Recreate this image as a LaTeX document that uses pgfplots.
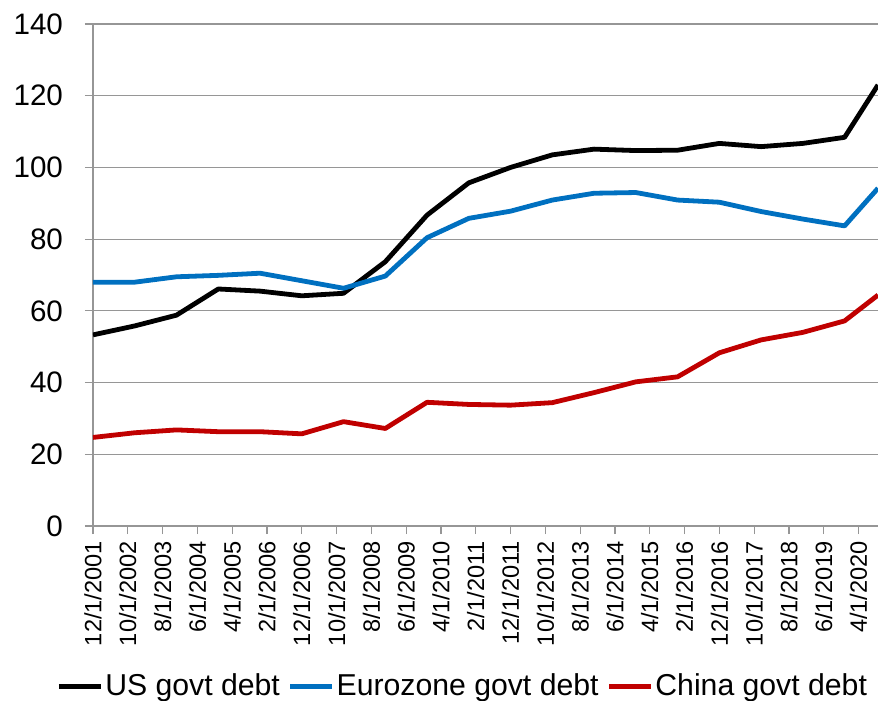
\documentclass[border=0pt]{standalone}
\usepackage{pgfplots}
\pgfplotsset{compat=1.18}
\usepackage{fontspec}
\setmainfont{Liberation Sans}
\definecolor{usblk}{RGB}{0,0,0}
\definecolor{ezblue}{RGB}{0,112,192}
\definecolor{cnred}{RGB}{192,0,0}
\definecolor{gridgray}{RGB}{150,150,150}
\pgfplotstableread{
m us ez cn
0 53.3 68.0 24.7
12 55.8 68.0 26.0
24 58.8 69.5 26.8
36 66.1 69.9 26.3
48 65.5 70.5 26.3
60 64.2 68.4 25.7
72 64.9 66.3 29.1
84 73.7 69.7 27.2
96 86.7 80.4 34.5
108 95.7 85.8 33.9
120 100.0 87.8 33.7
132 103.5 90.9 34.4
144 105.1 92.8 37.2
156 104.7 93.0 40.2
168 104.8 90.9 41.6
180 106.7 90.3 48.3
192 105.8 87.7 51.9
204 106.7 85.6 54.0
216 108.4 83.7 57.2
225.6 123.0 94.2 64.4
}\debt
\begin{document}
\begin{tikzpicture}
\begin{axis}[
  scale only axis,
  width=392.5pt, height=251pt,
  xmin=0, xmax=225.6,
  ymin=0, ymax=140,
  ytick={0,20,...,140},
  xtick={0,10,...,220},
  xticklabels={12/1/2001,10/1/2002,8/1/2003,6/1/2004,4/1/2005,2/1/2006,12/1/2006,10/1/2007,8/1/2008,6/1/2009,4/1/2010,2/1/2011,12/1/2011,10/1/2012,8/1/2013,6/1/2014,4/1/2015,2/1/2016,12/1/2016,10/1/2017,8/1/2018,6/1/2019,4/1/2020},
  axis lines*=left,
  axis line style={gridgray, line width=0.6pt},
  tick style={gridgray, line width=0.6pt},
  tick align=outside,
  major tick length=4pt,
  ymajorgrids,
  grid style={gridgray, line width=0.6pt},
  /pgf/number format/assume math mode=true,
  yticklabel style={font=\fontsize{14.8}{17}\selectfont, xshift=-7.5pt},
  xticklabel style={font=\fontsize{11.8}{13}\selectfont, rotate=90, anchor=east},
  legend columns=3,
  legend style={at={(0.471,-0.319)}, anchor=center, draw=none, fill=none,
    font=\fontsize{15.1}{18}\selectfont,
    /tikz/every even column/.append style={column sep=3pt},
    nodes={inner sep=1pt}},
  legend image code/.code={\draw[#1] (0pt,0pt) -- (21pt,0pt);},
  every axis plot/.append style={line width=2.4pt, line join=round},
]
\addplot[usblk, mark=none] table[x=m, y=us] {\debt};
\addlegendentry{US govt debt}
\addplot[ezblue, mark=none] table[x=m, y=ez] {\debt};
\addlegendentry{Eurozone govt debt}
\addplot[cnred, mark=none] table[x=m, y=cn] {\debt};
\addlegendentry{China govt debt}
\end{axis}
\pgfresetboundingbox
\path[use as bounding box] ([xshift=-46.5pt, yshift=-87.5pt]current axis.south west) rectangle ([yshift=12pt]current axis.north east);
\end{tikzpicture}
\end{document}
